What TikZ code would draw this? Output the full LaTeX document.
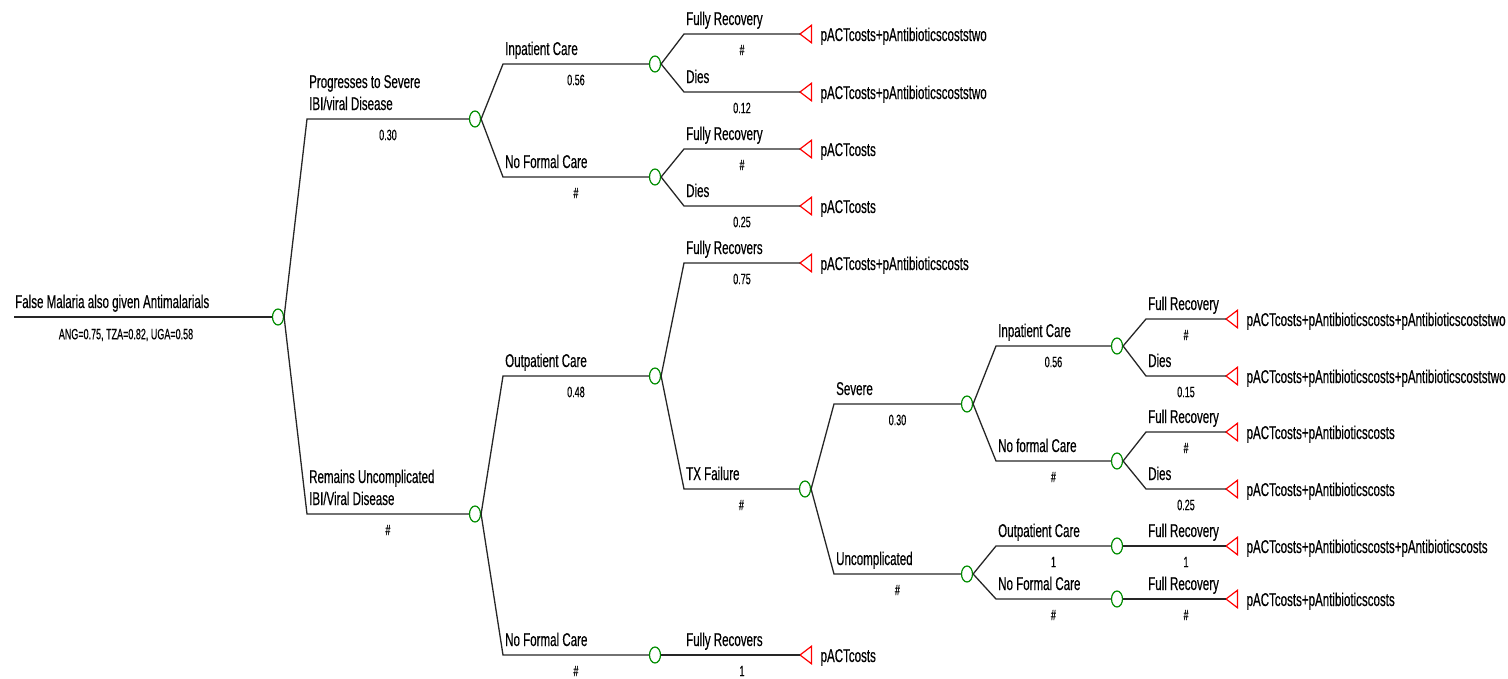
\documentclass[tikz,border=0pt]{standalone}
\usepackage{fontspec}
\usetikzlibrary{shapes.geometric,calc}
\newfontfamily\lblfont[FakeStretch=0.625,FakeBold=0.4]{Liberation Sans}
\newfontfamily\valfont[FakeStretch=0.6,FakeBold=0.3]{Liberation Sans}
\definecolor{chgreen}{RGB}{0,140,0}
\definecolor{termred}{RGB}{255,0,0}
\newcommand\treeseg[5]{%
  \draw[conn] (#1.east) -- (#2) -- (#3.west);
  \node[lbl] (#2-l) at ($(#2)+(2,-9)$) {#4};
  \node[val] (#2-v) at ($(#2)!0.5!(#3.west)+(0,16)$) {#5};
}
\begin{document}
\begin{tikzpicture}[x=1pt,y=-1pt,
  chance/.style={ellipse, draw=chgreen, line width=1.2pt, minimum width=11pt, minimum height=16pt, inner sep=0pt},
  term/.style={inner sep=0pt, minimum width=11pt, minimum height=17pt, anchor=west},
  tri/.style={draw=termred, line width=1.2pt},
  conn/.style={draw=black!85, line width=1.3pt},
  lbl/.style={anchor=base west, inner sep=0pt, font=\lblfont\fontsize{18.5}{20}\selectfont},
  val/.style={anchor=center, inner sep=0pt, font=\valfont\fontsize{15}{16}\selectfont},
  cost/.style={anchor=base west, inner sep=0pt, font=\lblfont\fontsize{18.5}{20}\selectfont}]
\useasboundingbox (0,0) rectangle (1508,678);

% chance nodes
\node[chance] (C0) at (278,317) {};
\node[chance] (CA) at (475,119) {};
\node[chance] (CB) at (475,514) {};
\node[chance] (CAA) at (655,64) {};
\node[chance] (CAB) at (655,177) {};
\node[chance] (CBA) at (655,376) {};
\node[chance] (CBB) at (655,655) {};
\node[chance] (CBAB) at (805,489) {};
\node[chance] (CBABA) at (967,404) {};
\node[chance] (CBABB) at (967,574) {};
\node[chance] (CBABAA) at (1117,346) {};
\node[chance] (CBABAB) at (1117,461) {};
\node[chance] (CBABBA) at (1117,546) {};
\node[chance] (CBABBB) at (1117,599) {};

% terminal nodes
\node[term] (TAAA) at (800,34) {};
\node[term] (TAAB) at (800,92) {};
\node[term] (TABA) at (800,149) {};
\node[term] (TABB) at (800,206) {};
\node[term] (TBAA) at (800,263) {};
\node[term] (TBBA) at (800,655) {};
\node[term] (T6a) at (1226,319) {};
\node[term] (T6b) at (1226,376) {};
\node[term] (T6c) at (1226,432) {};
\node[term] (T6d) at (1226,489) {};
\node[term] (T6e) at (1226,546) {};
\node[term] (T6f) at (1226,599) {};
\foreach \t in {TAAA,TAAB,TABA,TABB,TBAA,TBBA,T6a,T6b,T6c,T6d,T6e,T6f}
  \draw[tri] (\t.west) -- (\t.north east) -- (\t.south east) -- cycle;

% kink coordinates
\coordinate (r0) at (14,317);
\coordinate (kA) at (307,119);
\coordinate (kB) at (307,514);
\coordinate (kAA) at (503,64);
\coordinate (kAB) at (503,177);
\coordinate (kBA) at (503,376);
\coordinate (kBB) at (503,655);
\coordinate (kAAA) at (684,34);
\coordinate (kAAB) at (684,92);
\coordinate (kABA) at (684,149);
\coordinate (kABB) at (684,206);
\coordinate (kBAA) at (684,263);
\coordinate (kBAB) at (684,489);
\coordinate (kBBA) at (684,655);
\coordinate (kBABA) at (834,404);
\coordinate (kBABB) at (834,574);
\coordinate (kBABAA) at (996,346);
\coordinate (kBABAB) at (996,461);
\coordinate (kBABBA) at (996,546);
\coordinate (kBABBB) at (996,599);
\coordinate (k6a) at (1146,319);
\coordinate (k6b) at (1146,376);
\coordinate (k6c) at (1146,432);
\coordinate (k6d) at (1146,489);
\coordinate (k6e) at (1146,546);
\coordinate (k6f) at (1146,599);

% root
\draw[conn] (r0) -- (C0.west);
\node[lbl] (r0-l) at ($(r0)+(1,-9)$) {False Malaria also given Antimalarials};
\node[val] (r0-v) at ($(r0)+(112,18)$) {ANG=0.75, TZA=0.82, UGA=0.58};

% level 1
\treeseg{C0}{kA}{CA}{IBI/viral Disease}{0.30}
\node[lbl] (kA-l2) at ($(kA)+(2,-31)$) {Progresses to Severe};
\treeseg{C0}{kB}{CB}{IBI/Viral Disease}{\#}
\node[lbl] (kB-l2) at ($(kB)+(2,-31)$) {Remains Uncomplicated};

% level 2
\treeseg{CA}{kAA}{CAA}{Inpatient Care}{0.56}
\treeseg{CA}{kAB}{CAB}{No Formal Care}{\#}
\treeseg{CB}{kBA}{CBA}{Outpatient Care}{0.48}
\treeseg{CB}{kBB}{CBB}{No Formal Care}{\#}

% level 3
\treeseg{CAA}{kAAA}{TAAA}{Fully Recovery}{\#}
\treeseg{CAA}{kAAB}{TAAB}{Dies}{0.12}
\treeseg{CAB}{kABA}{TABA}{Fully Recovery}{\#}
\treeseg{CAB}{kABB}{TABB}{Dies}{0.25}
\treeseg{CBA}{kBAA}{TBAA}{Fully Recovers}{0.75}
\treeseg{CBA}{kBAB}{CBAB}{TX Failure}{\#}
\treeseg{CBB}{kBBA}{TBBA}{Fully Recovers}{1}

% level 4
\treeseg{CBAB}{kBABA}{CBABA}{Severe}{0.30}
\treeseg{CBAB}{kBABB}{CBABB}{Uncomplicated}{\#}

% level 5
\treeseg{CBABA}{kBABAA}{CBABAA}{Inpatient Care}{0.56}
\treeseg{CBABA}{kBABAB}{CBABAB}{No formal Care}{\#}
\treeseg{CBABB}{kBABBA}{CBABBA}{Outpatient Care}{1}
\treeseg{CBABB}{kBABBB}{CBABBB}{No Formal Care}{\#}

% level 6
\treeseg{CBABAA}{k6a}{T6a}{Full Recovery}{\#}
\treeseg{CBABAA}{k6b}{T6b}{Dies}{0.15}
\treeseg{CBABAB}{k6c}{T6c}{Full Recovery}{\#}
\treeseg{CBABAB}{k6d}{T6d}{Dies}{0.25}
\treeseg{CBABBA}{k6e}{T6e}{Full Recovery}{1}
\treeseg{CBABBB}{k6f}{T6f}{Full Recovery}{\#}

% payoffs
\node[cost] (TAAA-c) at ($(TAAA.east)+(9,7)$) {pACTcosts+pAntibioticscoststwo};
\node[cost] (TAAB-c) at ($(TAAB.east)+(9,7)$) {pACTcosts+pAntibioticscoststwo};
\node[cost] (TABA-c) at ($(TABA.east)+(9,7)$) {pACTcosts};
\node[cost] (TABB-c) at ($(TABB.east)+(9,7)$) {pACTcosts};
\node[cost] (TBAA-c) at ($(TBAA.east)+(9,7)$) {pACTcosts+pAntibioticscosts};
\node[cost] (TBBA-c) at ($(TBBA.east)+(9,7)$) {pACTcosts};
\node[cost] (T6a-c) at ($(T6a.east)+(9,7)$) {pACTcosts+pAntibioticscosts+pAntibioticscoststwo};
\node[cost] (T6b-c) at ($(T6b.east)+(9,7)$) {pACTcosts+pAntibioticscosts+pAntibioticscoststwo};
\node[cost] (T6c-c) at ($(T6c.east)+(9,7)$) {pACTcosts+pAntibioticscosts};
\node[cost] (T6d-c) at ($(T6d.east)+(9,7)$) {pACTcosts+pAntibioticscosts};
\node[cost] (T6e-c) at ($(T6e.east)+(9,7)$) {pACTcosts+pAntibioticscosts+pAntibioticscosts};
\node[cost] (T6f-c) at ($(T6f.east)+(9,7)$) {pACTcosts+pAntibioticscosts};
\end{tikzpicture}
\end{document}
